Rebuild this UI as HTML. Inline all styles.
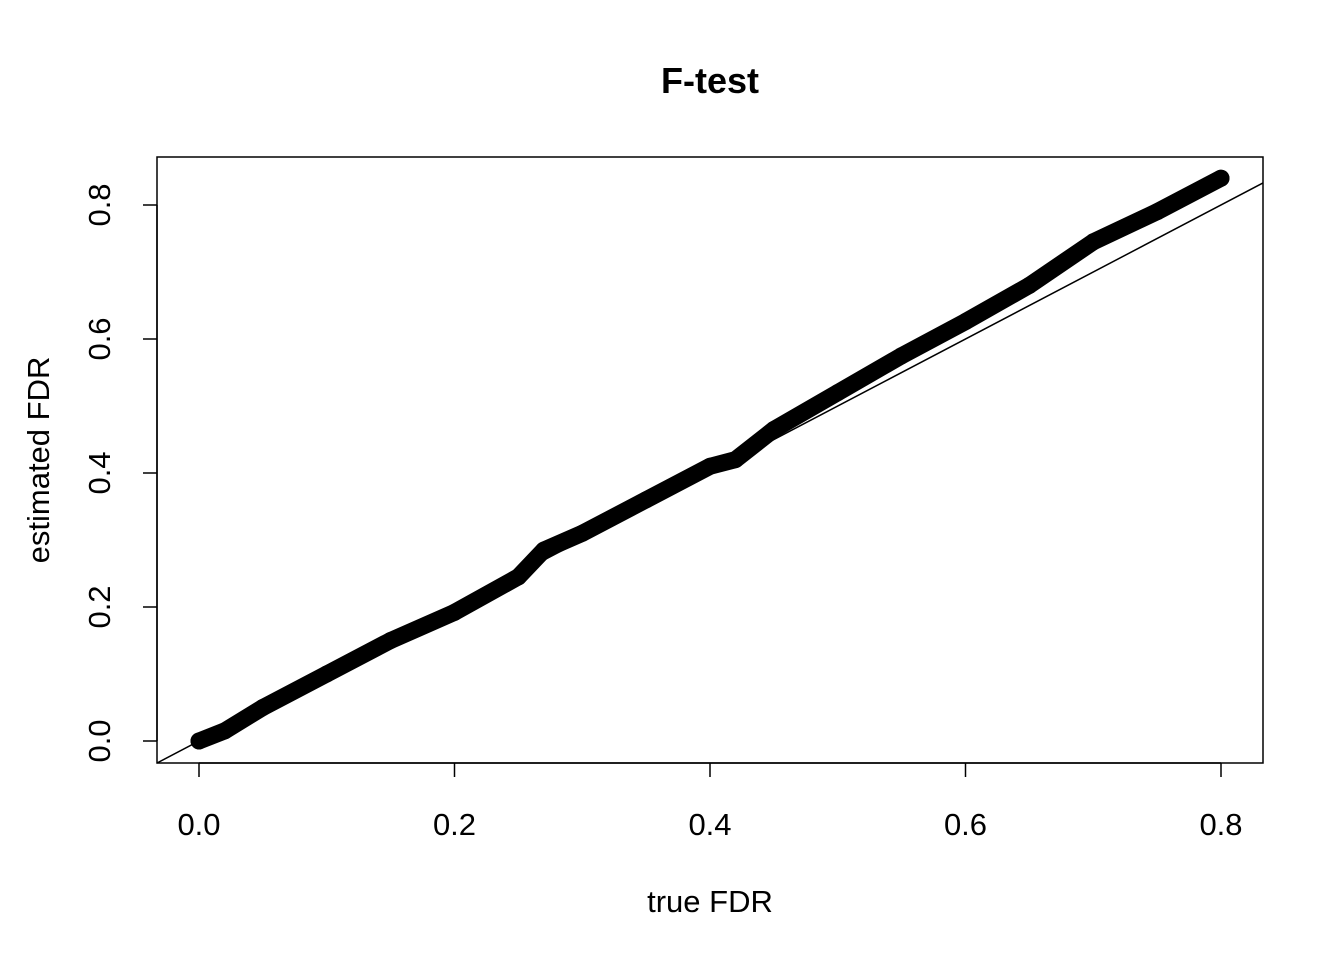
<!DOCTYPE html>
<html><head><meta charset="utf-8"><style>
body{margin:0;background:#fff}
svg{display:block;font-family:"Liberation Sans",Arial,sans-serif}
</style></head><body>
<svg id="c" width="1344" height="960">
<text x="710" y="93" font-size="36" font-weight="bold" text-anchor="middle">F-test</text>
<rect x="157" y="157" width="1106" height="606" fill="none" stroke="#000" stroke-width="1.5"/>
<text x="710" y="912" font-size="31" text-anchor="middle">true FDR</text>
<text transform="translate(49,460) rotate(-90)" font-size="31" text-anchor="middle">estimated FDR</text>
<g id="axes"></g>
<g id="marks"></g>
</svg>
<script>
const trueFDR=[0,0.02,0.05,0.1,0.15,0.2,0.25,0.27,0.3,0.35,0.4,0.42,0.45,0.5,0.55,0.6,0.65,0.7,0.75,0.8];
const estFDR=[0,0.015,0.05,0.1,0.15,0.192,0.245,0.285,0.31,0.36,0.41,0.42,0.465,0.52,0.575,0.626,0.68,0.745,0.79,0.84];
const xTicks=[0,0.2,0.4,0.6,0.8];
const yTicks=[0,0.2,0.4,0.6,0.8];
const NS='http://www.w3.org/2000/svg';
const X=v=>199+v*1277.5, Y=v=>741-v*670;
const axes=document.getElementById('axes'), marks=document.getElementById('marks');
function mk(tag,attrs,parent){const e=document.createElementNS(NS,tag);for(const k in attrs)e.setAttribute(k,attrs[k]);parent.appendChild(e);return e;}
mk('line',{x1:X(0),x2:X(0.8),y1:763,y2:763,stroke:'#000','stroke-width':1.5},axes);
mk('line',{x1:157,x2:157,y1:Y(0),y2:Y(0.8),stroke:'#000','stroke-width':1.5},axes);
xTicks.forEach(t=>{
  const l=mk('line',{x1:X(t),x2:X(t),y1:763,y2:777,stroke:'#000','stroke-width':1.5},axes);
  
  
  const s=mk('text',{x:X(t),y:835,'font-size':31,'text-anchor':'middle'},axes);
  s.textContent=t.toFixed(1);
  
  
});
yTicks.forEach(t=>{
  const l=mk('line',{x1:143,x2:157,y1:Y(t),y2:Y(t),stroke:'#000','stroke-width':1.5},axes);
  
  
  const s=mk('text',{transform:`translate(110,${Y(t)}) rotate(-90)`,'font-size':31,'text-anchor':'middle'},axes);
  s.textContent=t.toFixed(1);
  
  
});
const x0=(157-199)/1277.5, x1=(1263-199)/1277.5;
const ab=mk('line',{x1:X(x0),y1:Y(x0),x2:X(x1),y2:Y(x1),stroke:'#000','stroke-width':1.5},marks);


const pl=mk('polyline',{points:trueFDR.map((v,i)=>X(v)+','+Y(estFDR[i])).join(' '),fill:'none',stroke:'#000','stroke-width':17,'stroke-linecap':'round','stroke-linejoin':'round'},marks);


trueFDR.forEach((v,i)=>{
  const c=mk('circle',{cx:X(v),cy:Y(estFDR[i]),r:8.5,fill:'#000'},marks);
  
  
});
</script>
</body></html>
